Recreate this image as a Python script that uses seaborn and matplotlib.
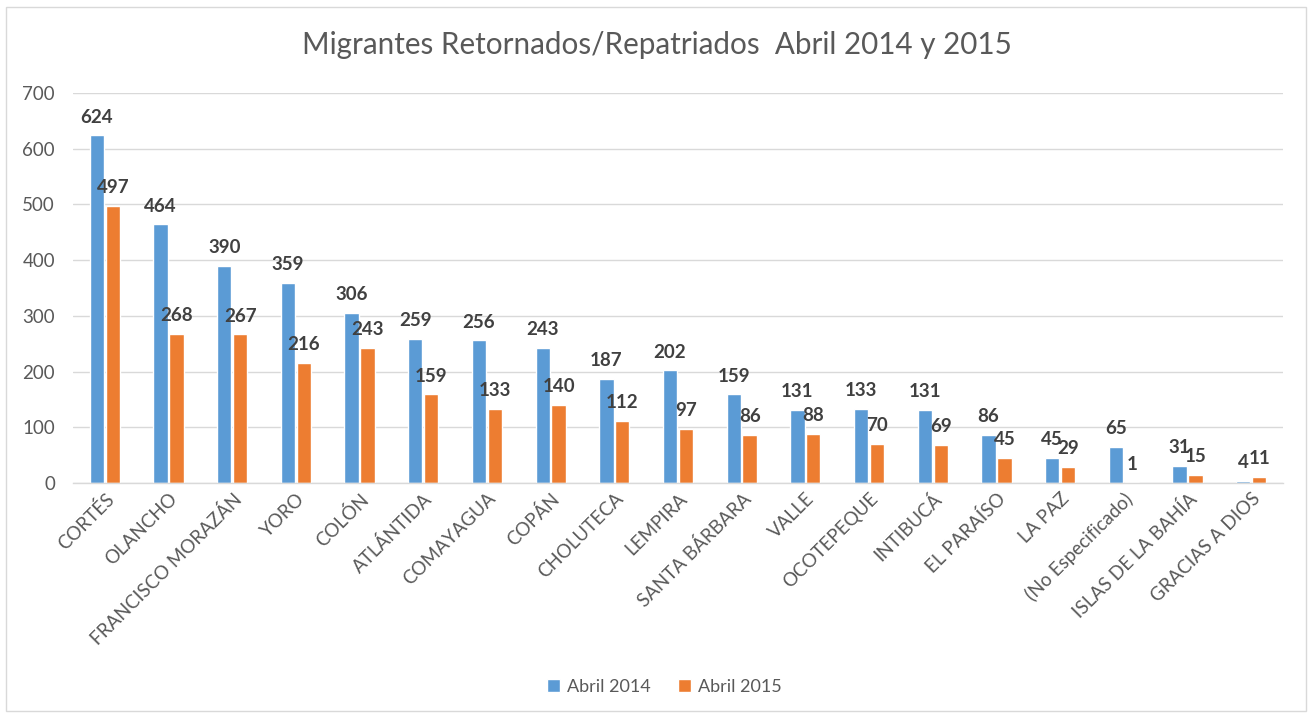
import matplotlib
matplotlib.use("Agg")
import matplotlib.pyplot as plt
import seaborn as sns
import pandas as pd
from matplotlib.patches import Rectangle

departamentos = ["CORTÉS", "OLANCHO", "FRANCISCO MORAZÁN", "YORO", "COLÓN", "ATLÁNTIDA",
                 "COMAYAGUA", "COPÁN", "CHOLUTECA", "LEMPIRA", "SANTA BÁRBARA", "VALLE",
                 "OCOTEPEQUE", "INTIBUCÁ", "EL PARAÍSO", "LA PAZ", "(No Especificado)",
                 "ISLAS DE LA BAHÍA", "GRACIAS A DIOS"]
abril_2014 = [624, 464, 390, 359, 306, 259, 256, 243, 187, 202, 159, 131, 133, 131, 86, 45, 65, 31, 4]
abril_2015 = [497, 268, 267, 216, 243, 159, 133, 140, 112, 97, 86, 88, 70, 69, 45, 29, 1, 15, 11]
series_names = ["Abril 2014", "Abril 2015"]
y_ticks = [0, 100, 200, 300, 400, 500, 600, 700]
title = "Migrantes Retornados/Repatriados  Abril 2014 y 2015"

df = pd.DataFrame({
    "dep": departamentos * 2,
    "val": abril_2014 + abril_2015,
    "serie": [series_names[0]] * len(departamentos) + [series_names[1]] * len(departamentos),
})

sns.set_theme(style="white")
plt.rcParams["font.family"] = ["Lato", "DejaVu Sans"]

W, H = 1313, 717
fig = plt.figure(figsize=(W / 100, H / 100), dpi=100)
ax = fig.add_axes([73 / W, 1 - 483 / H, (1283 - 73) / W, (483 - 93) / H])

sns.barplot(data=df, x="dep", y="val", hue="serie", palette=["#5B9BD5", "#ED7D31"],
            width=0.5, gap=0.1, ax=ax, legend=True, saturation=1, errorbar=None)

for cont in ax.containers:
    ax.bar_label(cont, fmt="%d", padding=7, fontsize=13.5, fontweight="bold", color="#404040")

ax.set_ylim(0, 700)
ax.set_yticks(y_ticks)
ax.set_xlim(-0.5, len(departamentos) - 0.5)
ax.yaxis.grid(True, color="#D9D9D9", linewidth=1)
ax.set_axisbelow(True)
for s in ["top", "right", "left"]:
    ax.spines[s].set_visible(False)
ax.spines["bottom"].set_color("#D9D9D9")
ax.spines["bottom"].set_linewidth(1)
ax.set_xlabel("")
ax.set_ylabel("")
ax.tick_params(axis="y", length=0, pad=13, labelsize=13.5, labelcolor="#595959")
ax.tick_params(axis="x", length=0, pad=5, labelsize=13.5, labelcolor="#595959")
ax.set_xticks(range(len(departamentos)))
ax.set_xticklabels(departamentos, rotation=45, ha="right", rotation_mode="anchor")

fig.text(0.5, 1 - 45 / H, title, ha="center", va="center", fontsize=21.3, color="#595959")

handles, labels = ax.get_legend_handles_labels()
ax.legend_.remove()
fig.legend(handles, labels, loc="center", bbox_to_anchor=(0.5 + 8 / W, 1 - 687 / H), ncol=2,
           frameon=False, fontsize=13, labelcolor="#595959", handlelength=0.7,
           handleheight=0.7, handletextpad=0.4, columnspacing=1.5)

fig.patches.append(Rectangle((6 / W, 1 - 711 / H), (1306 - 6) / W, (711 - 7) / H,
                             transform=fig.transFigure, fill=False, edgecolor="#D9D9D9",
                             linewidth=1))

fig.savefig("out.png", dpi=100)
